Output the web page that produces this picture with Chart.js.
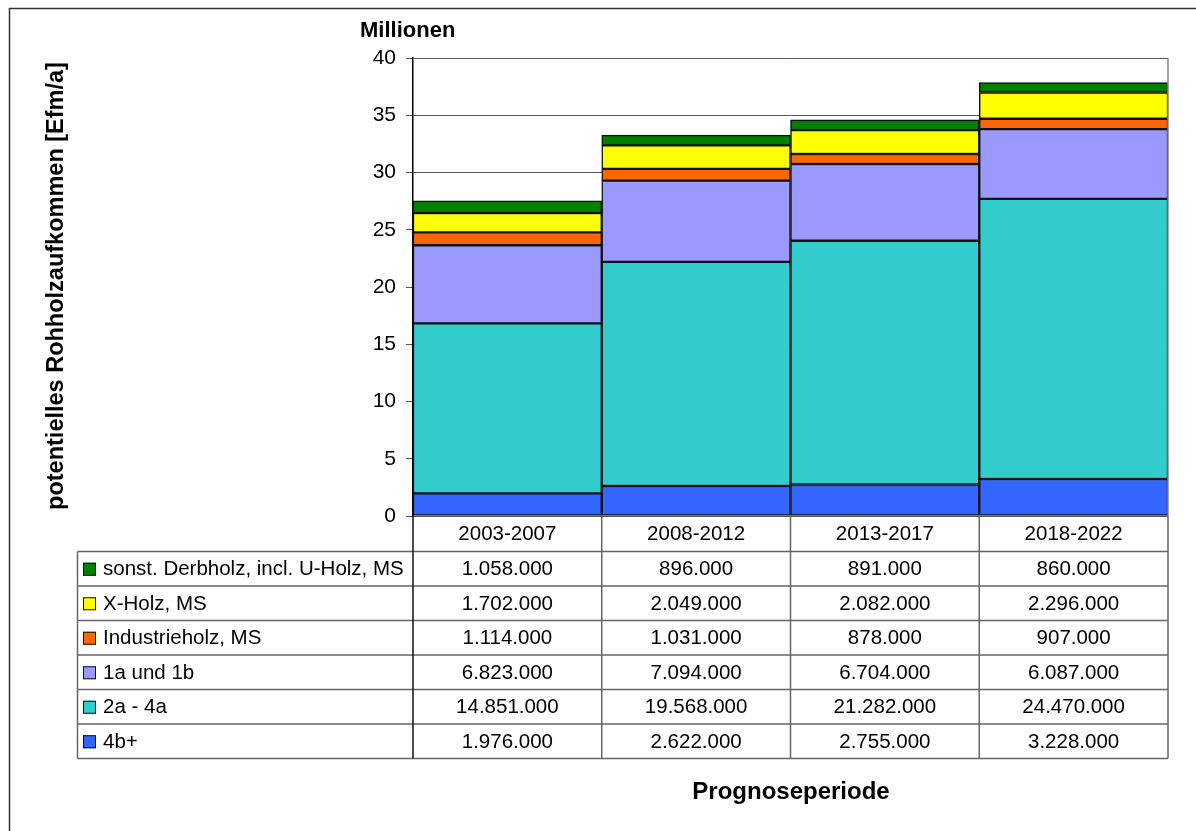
<!DOCTYPE html>
<html>
<head>
<meta charset="utf-8">
<script src="https://cdn.jsdelivr.net/npm/chart.js@4/dist/chart.umd.min.js"></script>
<style>
html,body{margin:0;padding:0;background:#fff;}
canvas{display:block;}
</style>
</head>
<body>
<canvas id="c" width="1196" height="831"></canvas>
<script>
// Rohholzaufkommen je Prognoseperiode (Efm/a)
var categories = ['2003-2007', '2008-2012', '2013-2017', '2018-2022'];
var val_4b = [1976000, 2622000, 2755000, 3228000];
var val_2a4a = [14851000, 19568000, 21282000, 24470000];
var val_1a1b = [6823000, 7094000, 6704000, 6087000];
var val_industrie = [1114000, 1031000, 878000, 907000];
var val_xholz = [1702000, 2049000, 2082000, 2296000];
var val_sonst = [1058000, 896000, 891000, 860000];
var yTicks = [0, 5, 10, 15, 20, 25, 30, 35, 40];

var FONT = "'Liberation Sans', Arial, sans-serif";

// stacking order, bottom to top
var series = [
	{ label: '4b+', color: '#3366FF', values: val_4b },
	{ label: '2a - 4a', color: '#33CCCC', values: val_2a4a },
	{ label: '1a und 1b', color: '#9999FF', values: val_1a1b },
	{ label: 'Industrieholz, MS', color: '#FF6600', values: val_industrie },
	{ label: 'X-Holz, MS', color: '#FFFF00', values: val_xholz },
	{ label: 'sonst. Derbholz, incl. U-Holz, MS', color: '#008000', values: val_sonst }
];

function fmt(n) {
	return String(n).replace(/\B(?=(\d{3})+(?!\d))/g, '.');
}

var datasets = [];
for (var i = 0; i < series.length; i++) {
	datasets.push({
		label: series[i].label,
		data: series[i].values.map(function (v) { return v / 1000000; }),
		backgroundColor: series[i].color,
		borderColor: '#111',
		borderWidth: 1.5,
		borderSkipped: false,
		barPercentage: 1,
		categoryPercentage: 1
	});
}

var tablePlugin = {
	id: 'datatable',
	beforeDraw: function (chart) {
		var ctx = chart.ctx;
		ctx.save();
		ctx.fillStyle = '#fff';
		ctx.fillRect(0, 0, chart.width, chart.height);
		ctx.restore();
	},
	afterDraw: function (chart) {
		var ctx = chart.ctx;
		var area = chart.chartArea;
		var xs = chart.scales.x;
		var n = categories.length;
		var colW = (area.right - area.left) / n;
		var headTop = area.bottom;
		var headH = 35.5;
		var rowH = 34.5;
		var tableLeft = 77.5;
		var rows = series.slice().reverse();
		var tableBottom = headTop + headH + rows.length * rowH;

		ctx.save();
		// outer frame
		ctx.strokeStyle = '#333';
		ctx.lineWidth = 1.5;
		ctx.strokeRect(9.5, 8.5, 1400, 1000);

		// right border of plot area
		ctx.strokeStyle = '#888';
		ctx.lineWidth = 1.5;
		ctx.beginPath();
		ctx.moveTo(area.right, area.top);
		ctx.lineTo(area.right, area.bottom);
		ctx.stroke();

		// table grid
		ctx.strokeStyle = '#666';
		ctx.lineWidth = 1.5;
		ctx.beginPath();
		for (var r = 0; r <= rows.length; r++) {
			var y = headTop + headH + r * rowH;
			ctx.moveTo(tableLeft, y);
			ctx.lineTo(area.right, y);
		}
		ctx.moveTo(tableLeft, headTop + headH);
		ctx.lineTo(tableLeft, tableBottom);
		for (var c = 1; c <= n; c++) {
			var x = area.left + c * colW;
			ctx.moveTo(x, headTop);
			ctx.lineTo(x, tableBottom);
		}
		ctx.stroke();
		ctx.strokeStyle = '#111';
		ctx.beginPath();
		ctx.moveTo(area.left, headTop);
		ctx.lineTo(area.left, tableBottom);
		ctx.stroke();

		// header labels
		ctx.fillStyle = '#000';
		ctx.font = '20.5px ' + FONT;
		ctx.textAlign = 'center';
		ctx.textBaseline = 'middle';
		for (var k = 0; k < n; k++) {
			ctx.fillText(categories[k], xs.getPixelForValue(k), headTop + headH / 2 + 1);
		}

		// rows
		for (var r2 = 0; r2 < rows.length; r2++) {
			var cy = headTop + headH + r2 * rowH + rowH / 2;
			ctx.fillStyle = rows[r2].color;
			ctx.fillRect(83, cy - 6, 13, 13);
			ctx.strokeStyle = '#111';
			ctx.lineWidth = 1;
			ctx.strokeRect(83.5, cy - 5.5, 12, 12);
			ctx.fillStyle = '#000';
			ctx.textAlign = 'left';
			ctx.fillText(rows[r2].label, 103, cy + 1);
			ctx.textAlign = 'center';
			for (var k2 = 0; k2 < n; k2++) {
				ctx.fillText(fmt(rows[r2].values[k2]), xs.getPixelForValue(k2), cy + 1);
			}
		}

		// titles
		ctx.textBaseline = 'alphabetic';
		ctx.font = 'bold 22px ' + FONT;
		ctx.textAlign = 'left';
		ctx.fillText('Millionen', 360, 37);
		ctx.font = 'bold 24px ' + FONT;
		ctx.textAlign = 'center';
		ctx.fillText('Prognoseperiode', 791, 799);
		ctx.font = 'bold 23.5px ' + FONT;
		ctx.translate(63, 286);
		ctx.rotate(-Math.PI / 2);
		ctx.fillText('potentielles Rohholzaufkommen [Efm/a]', 0, 0);
		ctx.restore();
	}
};

new Chart(document.getElementById('c').getContext('2d'), {
	type: 'bar',
	data: { labels: categories, datasets: datasets },
	options: {
		responsive: false,
		animation: false,
		devicePixelRatio: 1,
		layout: { padding: { left: 353, top: 58, right: 28, bottom: 315 } },
		plugins: { legend: { display: false }, tooltip: { enabled: false } },
		scales: {
			x: { stacked: true, display: false },
			y: {
				stacked: true,
				min: 0,
				max: 40,
				afterFit: function (scale) { scale.width = 60; },
				afterBuildTicks: function (scale) {
					scale.ticks = yTicks.map(function (v) { return { value: v }; });
				},
				ticks: { color: '#000', padding: 10, font: { family: FONT, size: 21 } },
				grid: { color: '#555', lineWidth: 1, tickLength: 7 },
				border: { color: '#000', width: 1.5 }
			}
		}
	},
	plugins: [tablePlugin]
});
</script>
</body>
</html>
